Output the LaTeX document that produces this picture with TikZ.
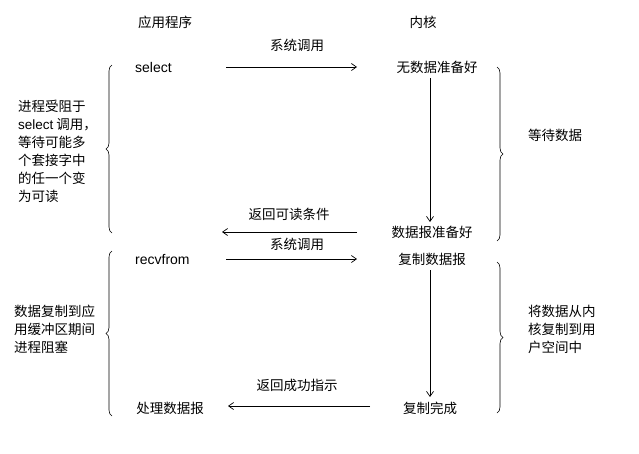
\documentclass[tikz,border=0pt]{standalone}
\usepackage{fontspec}
\setmainfont{Liberation Sans}
\newfontfamily\cjk{Noto Sans CJK SC}
\usetikzlibrary{decorations.pathreplacing,arrows.meta}
\begin{document}
\begin{tikzpicture}[x=1pt,y=-1pt,
  t/.style={font=\cjk\fontsize{13.5}{16}\selectfont,inner sep=0pt},
  l/.style={font=\fontsize{14}{16}\selectfont,inner sep=0pt},
  blk/.style={font=\cjk\fontsize{13.5}{18}\selectfont,inner sep=0pt,align=left},
  ar/.style={-{Straight Barb[length=5pt,width=7pt]},line width=0.7pt},
  br/.style={decorate,decoration={brace,amplitude=6pt},line width=0.6pt}]
\useasboundingbox (0,0) rectangle (639,453);
\node[t] (h1) at (165,22) {应用程序};
\node[t] (h2) at (423,22) {内核};
\node[l,anchor=west] (sel) at (135,67) {select};
\node[t] (k1) at (437,67) {无数据准备好};
\coordinate (a1s) at (226,67); \coordinate (a1e) at (357,67);
\draw[ar] (a1s) -- (a1e);
\node[t] (lb1) at (297,45) {系统调用};
\node[t] (k2) at (432,232) {数据报准备好};
\coordinate (v1s) at (430,78); \coordinate (v1e) at (430,222);
\draw[ar] (v1s) -- (v1e);
\coordinate (a2s) at (357,232); \coordinate (a2e) at (222,232);
\draw[ar] (a2s) -- (a2e);
\node[t] (lb2) at (289,214) {返回可读条件};
\node[l,anchor=west] (rec) at (135,259) {recvfrom};
\node[t] (k3) at (432,259) {复制数据报};
\coordinate (a3s) at (226,259); \coordinate (a3e) at (357,259);
\draw[ar] (a3s) -- (a3e);
\node[t] (lb3) at (297,244) {系统调用};
\coordinate (v2s) at (430,270); \coordinate (v2e) at (430,397);
\draw[ar] (v2s) -- (v2e);
\node[t] (k4) at (430,408) {复制完成};
\coordinate (a4s) at (370,406); \coordinate (a4e) at (228,406);
\draw[ar] (a4s) -- (a4e);
\node[t] (lb4) at (297,385) {返回成功指示};
\node[t] (p) at (170,408) {处理数据报};
\coordinate (b1a) at (112,233); \coordinate (b1b) at (112,65);
\draw[br] (b1a) -- (b1b);
\coordinate (b2a) at (112,416); \coordinate (b2b) at (112,251);
\draw[br] (b2a) -- (b2b);
\coordinate (b3a) at (497,67); \coordinate (b3b) at (497,241);
\draw[br] (b3a) -- (b3b);
\coordinate (b4a) at (497,262); \coordinate (b4b) at (497,413);
\draw[br] (b4a) -- (b4b);
\node[blk,anchor=north west] (tl1) at (18,100) {进程受阻于\\{\fontspec{Liberation Sans}select} 调用，\\等待可能多\\个套接字中\\的任一个变\\为可读};
\node[blk,anchor=north west] (tl2) at (14,305) {数据复制到应\\用缓冲区期间\\进程阻塞};
\node[t,anchor=west] (tr1) at (528,135) {等待数据};
\node[blk,anchor=north west] (tr2) at (528,305) {将数据从内\\核复制到用\\户空间中};
\end{tikzpicture}
\end{document}
